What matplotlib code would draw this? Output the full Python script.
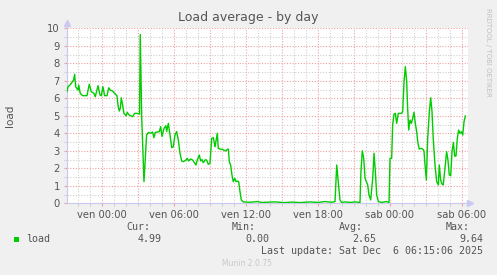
import numpy as np
import matplotlib
matplotlib.use("Agg")
import matplotlib.pyplot as plt

# hours relative to ven (Fri) 00:00, and the 1-minute load average
hours = [-2.92, -2.83, -2.67, -2.56, -2.36, -2.28, -2.19, -2.0, -1.94, -1.81,
         -1.61, -1.25, -1.06, -0.89, -0.67, -0.56, -0.33, -0.17, -0.06, 0.08,
         0.22, 0.42, 0.56, 0.69, 0.89, 1.06, 1.25, 1.33, 1.44, 1.53,
         1.61, 1.72, 1.83, 2.0, 2.11, 2.22, 2.39, 2.56, 2.72, 2.92,
         3.13, 3.19, 3.31, 3.5, 3.72, 3.86, 4.06, 4.22, 4.33, 4.44,
         4.61, 4.78, 4.89, 5.0, 5.17, 5.33, 5.39, 5.53, 5.67, 5.81,
         5.94, 6.08, 6.22, 6.36, 6.5, 6.64, 6.78, 7.0, 7.11, 7.22,
         7.39, 7.56, 7.69, 7.83, 7.94, 8.11, 8.22, 8.33, 8.44, 8.61,
         8.72, 8.86, 9.0, 9.14, 9.28, 9.42, 9.61, 9.69, 9.83, 10.06,
         10.25, 10.33, 10.44, 10.53, 10.61, 10.72, 10.83, 10.94, 11.06, 11.17,
         11.28, 11.39, 11.5, 11.61, 11.78, 12.33, 12.92, 13.33, 14.42, 15.17,
         15.83, 16.5, 17.33, 18.0, 18.58, 19.17, 19.42, 19.56, 19.69, 19.83,
         19.97, 20.25, 20.67, 21.08, 21.5, 21.58, 21.69, 21.81, 21.92, 22.03,
         22.14, 22.25, 22.39, 22.56, 22.67, 22.78, 22.89, 23.03, 23.31, 23.67,
         23.92, 24.0, 24.14, 24.22, 24.33, 24.44, 24.56, 24.69, 24.83, 24.97,
         25.06, 25.17, 25.28, 25.39, 25.47, 25.56, 25.67, 25.78, 25.89, 26.0,
         26.11, 26.22, 26.33, 26.44, 26.61, 26.72, 26.83, 26.92, 27.03, 27.14,
         27.28, 27.39, 27.5, 27.61, 27.75, 27.89, 28.03, 28.11, 28.22, 28.33,
         28.44, 28.58, 28.72, 28.83, 28.94, 29.06, 29.17, 29.28, 29.39, 29.5,
         29.61, 29.72, 29.83, 29.94, 30.06, 30.17, 30.28]
load = [6.38, 6.66, 6.76, 6.85, 7.05, 7.37, 6.66, 6.47, 6.76, 6.28,
        6.15, 6.15, 6.8, 6.38, 6.28, 6.09, 6.72, 6.2, 6.14, 6.66,
        6.15, 6.15, 6.6, 6.47, 6.41, 6.28, 6.14, 5.62, 5.27, 5.43,
        6.03, 5.62, 5.14, 5.0, 5.2, 5.07, 5.0, 4.95, 5.14, 5.14,
        5.1, 9.64, 4.9, 1.24, 3.9, 4.05, 4.0, 4.07, 3.75, 4.05,
        4.07, 4.1, 4.38, 3.82, 4.28, 4.43, 4.1, 4.57, 3.9, 3.18,
        3.23, 3.9, 4.1, 3.62, 2.86, 2.42, 2.38, 2.47, 2.57, 2.42,
        2.53, 2.47, 2.34, 2.19, 2.47, 2.76, 2.42, 2.5, 2.32, 2.49,
        2.47, 2.23, 2.28, 3.71, 3.75, 3.23, 4.0, 3.14, 3.1, 3.08,
        3.0, 3.0, 3.08, 3.1, 2.38, 2.19, 1.62, 1.24, 1.43, 1.24,
        1.27, 1.24, 0.67, 0.19, 0.08, 0.06, 0.1, 0.05, 0.08, 0.04,
        0.07, 0.04, 0.08, 0.05, 0.1, 0.06, 0.1, 2.19, 1.24, 0.19,
        0.05, 0.08, 0.05, 0.08, 0.05, 1.81, 3.0, 2.57, 1.43, 1.24,
        1.05, 0.48, 0.19, 1.43, 2.86, 1.81, 0.48, 0.1, 0.05, 0.1,
        0.05, 2.57, 2.57, 4.47, 5.08, 5.14, 4.57, 5.14, 5.14, 5.14,
        5.27, 6.95, 7.81, 6.95, 5.43, 4.19, 4.76, 4.57, 4.85, 5.2,
        4.57, 4.1, 3.43, 3.1, 3.14, 3.1, 3.0, 2.19, 1.33, 3.71,
        5.24, 6.03, 5.24, 3.62, 2.19, 1.24, 1.05, 2.19, 1.33, 1.1,
        1.05, 2.0, 2.95, 2.47, 1.62, 1.57, 2.95, 3.48, 2.7, 2.7,
        3.71, 4.19, 4.0, 4.09, 3.9, 4.66, 4.99]

tick_hours = [0, 6, 12, 18, 24, 30]
tick_labels = ["ven 00:00", "ven 06:00", "ven 12:00", "ven 18:00", "sab 00:00", "sab 06:00"]

stat_names = ["Cur:", "Min:", "Avg:", "Max:"]
stat_values = ["4.99", "0.00", "2.65", "9.64"]

W, H = 497, 275
fig = plt.figure(figsize=(W / 100, H / 100), dpi=100)
fig.patch.set_facecolor("#f0f0f0")

# plot area in pixel coordinates of the reference
x0, x1, y0, y1 = 66.7, 468, 28.3, 203.3
ax = fig.add_axes([x0 / W, 1 - y1 / H, (x1 - x0) / W, (y1 - y0) / H])
ax.set_facecolor("white")
ax.set_xlim(-2.94, 30.5)
ax.set_ylim(0, 10)

txt = "#555555"
minor_c = "#d0d0d0"
major_c = "#f0a0a0"
dots = (0, (1, 1.5))

# grid: minor gray, major red
for h in np.arange(-2, 31, 1):
    c = major_c if h % 3 == 0 else minor_c
    ax.axvline(h, color=c, lw=0.8, ls=dots, zorder=1)
for v in np.arange(0.5, 10.01, 0.5):
    c = major_c if v % 1 == 0 else minor_c
    ax.axhline(v, color=c, lw=0.8, ls=dots, zorder=1)

ax.plot(hours, load, color="#00cc00", lw=1.0, zorder=3)

for s in ["top", "right"]:
    ax.spines[s].set_visible(False)
for s in ["left", "bottom"]:
    ax.spines[s].set_color("#c8c8f0")
    ax.spines[s].set_linewidth(0.8)

ax.set_xticks(tick_hours)
ax.set_xticklabels(tick_labels)
ax.set_xticks(np.arange(-2, 31, 1), minor=True)
ax.set_yticks(range(0, 11))
ax.set_yticks(np.arange(0.5, 10, 0.5), minor=True)
ax.tick_params(axis="both", which="both", labelsize=7.2, labelcolor=txt, length=2,
               width=0.8, color=minor_c, pad=3)
ax.tick_params(axis="both", which="major", color=major_c)

# axis arrows
ax.plot([1.005], [0], marker=">", ms=4, color="#c8c8f0", transform=ax.transAxes, clip_on=False)
ax.plot([0], [1.03], marker="^", ms=4, color="#c8c8f0", transform=ax.transAxes, clip_on=False)
ax.plot([0, 0], [1.0, 1.03], color="#c8c8f0", lw=0.8, transform=ax.transAxes, clip_on=False)
ax.plot([1.0, 1.005], [0, 0], color="#c8c8f0", lw=0.8, transform=ax.transAxes, clip_on=False)

def px(x, y):
    return x / W, 1 - y / H

fig.text(*px(248, 18), "Load average - by day", ha="center", va="center", fontsize=9, color=txt)
fig.text(*px(10, 116), "load", ha="center", va="center", rotation=90, fontsize=7.5, color=txt)
fig.text(*px(488, 52), "RRDTOOL / TOBI OETIKER", ha="center", va="center", rotation=-90,
         fontsize=5, color="#c0c0c0")

mono = "DejaVu Sans Mono"
fig.patches.append(plt.Rectangle(px(14, 242), 5 / W, 5 / H, transform=fig.transFigure,
                                 facecolor="#00cc00", edgecolor="none"))
fig.text(*px(26, 239), "load", ha="left", va="center", fontsize=7.2, family=mono, color=txt)

name_right = [150, 256, 363, 470]
value_right = [162, 269, 376, 483]
for n, v, xn, xv in zip(stat_names, stat_values, name_right, value_right):
    fig.text(*px(xn, 227), n, ha="right", va="center", fontsize=7.2, family=mono, color=txt)
    fig.text(*px(xv, 239), v, ha="right", va="center", fontsize=7.2, family=mono, color=txt)

fig.text(*px(483, 251), "Last update: Sat Dec  6 06:15:06 2025", ha="right", va="center",
         fontsize=7.2, family=mono, color=txt)
fig.text(*px(247, 264), "Munin 2.0.75", ha="center", va="center", fontsize=5.5, color="#c8c8c8")

fig.savefig("out.png", dpi=100, facecolor=fig.get_facecolor())
